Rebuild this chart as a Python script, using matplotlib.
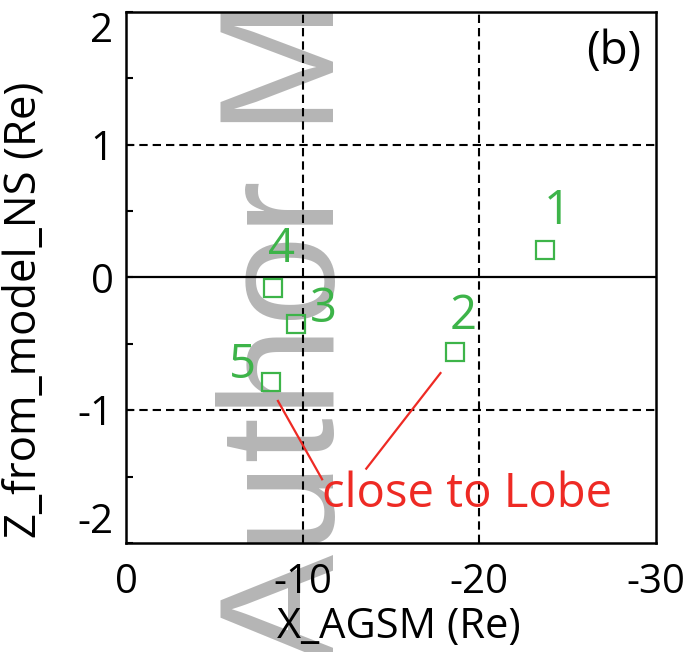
import numpy as np
import matplotlib
matplotlib.use('Agg')
import matplotlib.pyplot as plt

plt.rcParams['font.family'] = ['Open Sans', 'DejaVu Sans']

# event positions (Re)
event_id = ['1', '2', '3', '4', '5']
x_agsm = [-23.7, -18.6, -9.6, -8.3, -8.2]
z_ns = [0.21, -0.56, -0.35, -0.08, -0.79]
# where each number sits
label_x = [-24.4, -19.1, -11.2, -8.8, -6.6]
label_y = [0.50, -0.29, -0.24, 0.21, -0.66]

# "close to Lobe" pointer lines: (from event, to text)
lobe_x = [[-8.6, -11.1], [-17.8, -13.6]]
lobe_y = [[-0.93, -1.52], [-0.72, -1.44]]

x_ticks = [0, -10, -20, -30]
y_ticks = [-2, -1, 0, 1, 2]

green = '#3db449'
red = '#ee2a24'

fig = plt.figure(figsize=(6.84, 6.52), dpi=100)
ax = fig.add_axes([0.1842, 0.1672, 0.7749, 0.8144])
ax.patch.set_alpha(0)

# watermark behind everything
fig.text(0.488, -0.017, 'Author Manuscript', rotation=90, rotation_mode='anchor',
         ha='left', va='baseline', fontsize=118, family='Liberation Sans',
         color='#adadad', alpha=0.9, zorder=-5)

for xv in [-10, -20]:
    ax.axvline(xv, color='k', lw=1.5, ls=(0, (4, 2.4)), zorder=1)
for yv in [1, -1]:
    ax.axhline(yv, color='k', lw=1.5, ls=(0, (4, 2.4)), zorder=1)
ax.axhline(0, color='k', lw=1.6, zorder=1)

ax.plot(x_agsm, z_ns, 's', ms=12.5, mfc='none', mec=green, mew=1.6, zorder=3)
for t, lx, ly in zip(event_id, label_x, label_y):
    ax.text(lx, ly, t, color=green, fontsize=34, ha='center', va='center', zorder=3)

for lx, ly in zip(lobe_x, lobe_y):
    ax.plot(lx, ly, color=red, lw=1.6, zorder=3)
ax.text(-19.3, -1.63, 'close to Lobe', color=red, fontsize=34, ha='center', va='center', zorder=3)

ax.text(0.92, 0.925, '(b)', transform=ax.transAxes, fontsize=33, ha='center', va='center')

ax.set_xlim(0, -30)
ax.set_ylim(-2, 2)
ax.set_xticks(x_ticks)
ax.set_xticklabels(['0', '-10', '-20', '-30'])
ax.set_yticks(y_ticks)
ax.set_yticklabels(['-2', '-1', '0', '1', '2'])
ax.set_yticks(np.arange(-1.5, 2, 1.0), minor=True)
ax.tick_params(axis='y', which='both', direction='in', length=5, width=1.5,
               labelsize=29, pad=9, right=False)
ax.tick_params(axis='x', which='both', direction='in', length=0, labelsize=29, pad=14)
# end labels sit inside the axis range
ylabs = ax.get_yticklabels()
ylabs[0].set_va('bottom')
ylabs[-1].set_va('top')
for s in ax.spines.values():
    s.set_linewidth(1.8)

ax.set_xlabel('X_AGSM (Re)', fontsize=30)
ax.xaxis.set_label_coords(0.515, -0.118)
ax.set_ylabel('Z_from_model_NS (Re)', fontsize=31.5)
ax.yaxis.set_label_coords(-0.15, 0.44)

fig.savefig('out.png', dpi=100)
